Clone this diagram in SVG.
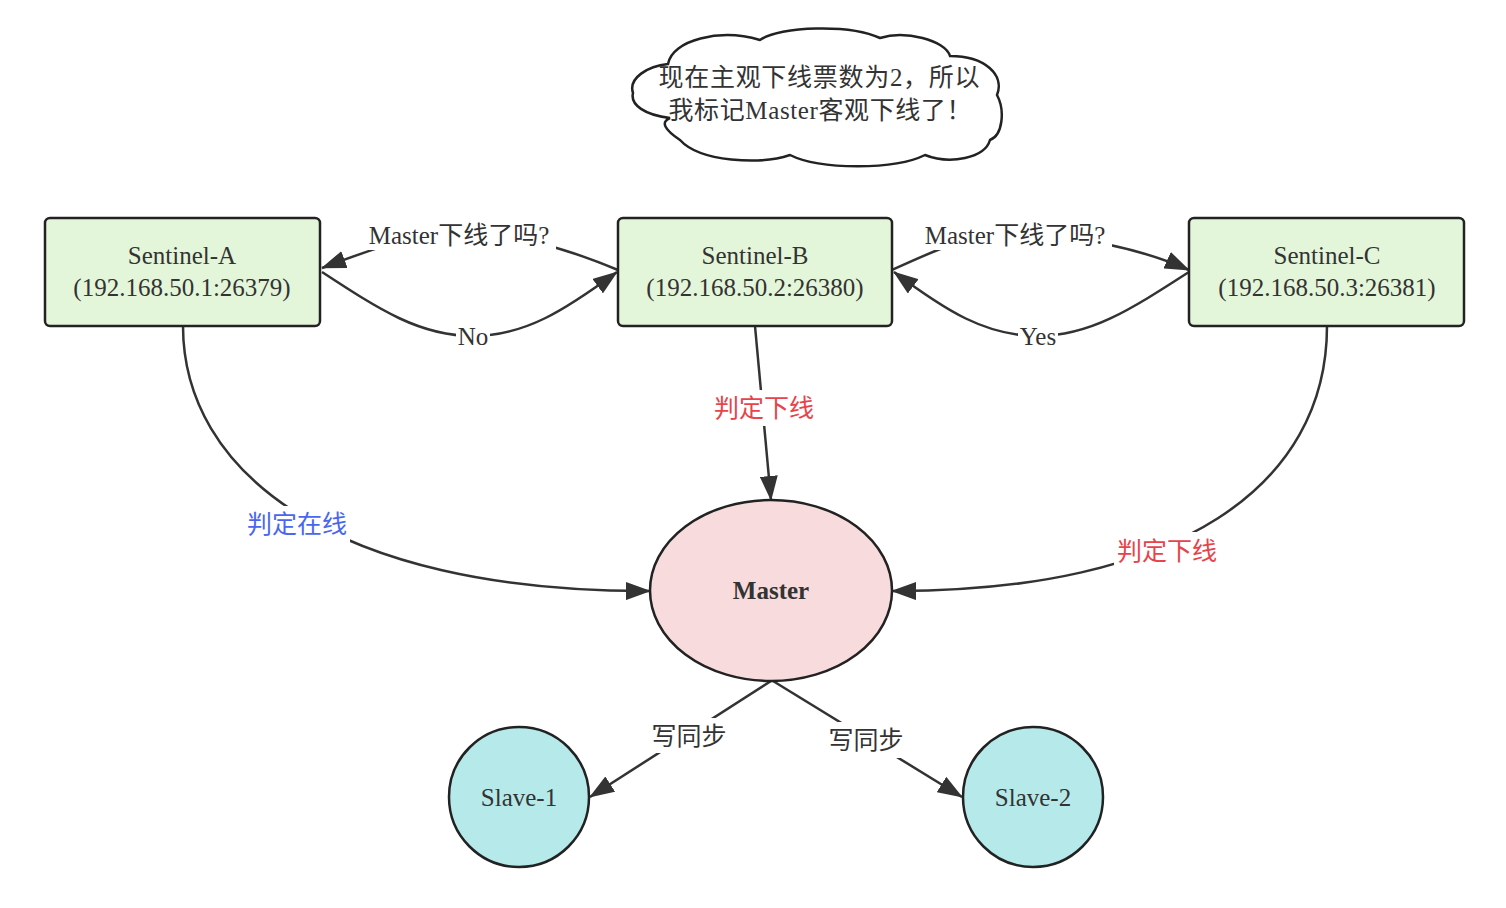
<svg xmlns="http://www.w3.org/2000/svg" width="1506" height="908" viewBox="0 0 1506 908">
<style>
text{font-family:"Liberation Serif","Noto Sans CJK SC",serif;font-size:25px;fill:#333;text-anchor:middle;dominant-baseline:central}
.box{fill:#e4f6da;stroke:#222;stroke-width:2.5}
.edge{fill:none;stroke:#333;stroke-width:2.5}
.lb{fill:#fff}
.red{fill:#e8424b}
.blue{fill:#4a66f0}
</style>
<defs>
<marker id="arr" markerWidth="26" markerHeight="18" refX="24" refY="9" orient="auto" markerUnits="userSpaceOnUse">
<path d="M0,0 L25,9 L0,18 z" fill="#333"/>
</marker>
</defs>
<rect width="1506" height="908" fill="#fff"/>
<g id="cloud">
<path d="M633,93 C628,78 648,66 668,64 C672,40 720,28 760,40 C780,26 850,24 880,38 C905,30 945,40 950,56 C985,56 1005,75 997,95 C1005,110 1003,135 990,140 C985,158 950,165 925,155 C895,170 820,170 790,155 C760,165 700,162 680,140 C665,130 660,122 670,118 C645,115 630,105 633,93 Z" fill="#fff" stroke="#222" stroke-width="2.5"/>
<text x="819" y="77" textLength="321" lengthAdjust="spacing">现在主观下线票数为2，所以</text>
<text x="820" y="110" textLength="303" lengthAdjust="spacing">我标记Master客观下线了！</text>
</g>
<g id="edges">
<path class="edge" d="M618,270 C570,250 520,234 462,234 C410,234 370,250 322,268" marker-end="url(#arr)"/>
<path class="edge" d="M322,272 C380,310 420,336 473,336 C525,336 565,310 617,272" marker-end="url(#arr)"/>
<path class="edge" d="M892,270 C940,248 970,234 1015,234 C1070,234 1140,248 1189,270" marker-end="url(#arr)"/>
<path class="edge" d="M1189,272 C1130,310 1090,336 1038,336 C985,336 945,310 894,272" marker-end="url(#arr)"/>
<path class="edge" d="M755,326 L771,500" marker-end="url(#arr)"/>
<path class="edge" d="M183,326 C183,470 330,592 650,591" marker-end="url(#arr)"/>
<path class="edge" d="M1327,326 C1327,485 1180,592 892,591" marker-end="url(#arr)"/>
<path class="edge" d="M771,681 L590,797" marker-end="url(#arr)"/>
<path class="edge" d="M773,681 L962,797" marker-end="url(#arr)"/>
<rect class="lb" x="362" y="220" width="194" height="30"/>
<text x="459" y="235">Master下线了吗?</text>
<rect class="lb" x="456" y="322" width="34" height="28"/>
<text x="473" y="336">No</text>
<rect class="lb" x="918" y="220" width="194" height="30"/>
<text x="1015" y="235">Master下线了吗?</text>
<rect class="lb" x="1018" y="322" width="40" height="28"/>
<text x="1038" y="336">Yes</text>
<rect class="lb" x="711" y="390" width="106" height="36"/>
<text class="red" x="764" y="408">判定下线</text>
<rect class="lb" x="244" y="506" width="106" height="36"/>
<text class="blue" x="297" y="524">判定在线</text>
<rect class="lb" x="1114" y="532" width="106" height="36"/>
<text class="red" x="1167" y="551">判定下线</text>
<rect class="lb" x="650" y="718" width="78" height="35"/>
<text x="689" y="736">写同步</text>
<rect class="lb" x="827" y="722" width="78" height="36"/>
<text x="866" y="740">写同步</text>
</g>
<g id="sentinelA">
<rect class="box" x="45" y="218" width="275" height="108" rx="5"/>
<text x="182" y="255">Sentinel-A</text>
<text x="182" y="287">(192.168.50.1:26379)</text>
</g>
<g id="sentinelB">
<rect class="box" x="618" y="218" width="274" height="108" rx="5"/>
<text x="755" y="255">Sentinel-B</text>
<text x="755" y="287">(192.168.50.2:26380)</text>
</g>
<g id="sentinelC">
<rect class="box" x="1189" y="218" width="275" height="108" rx="5"/>
<text x="1327" y="255">Sentinel-C</text>
<text x="1327" y="287">(192.168.50.3:26381)</text>
</g>
<g id="master">
<ellipse cx="771" cy="590.5" rx="121" ry="90.5" fill="#f8dbdc" stroke="#222" stroke-width="2.5"/>
<text x="771" y="590" font-weight="bold">Master</text>
</g>
<g id="slave1">
<ellipse cx="519" cy="797" rx="70" ry="70" fill="#b6eaea" stroke="#222" stroke-width="2.5"/>
<text x="519" y="797">Slave-1</text>
</g>
<g id="slave2">
<ellipse cx="1033" cy="797" rx="70" ry="70" fill="#b6eaea" stroke="#222" stroke-width="2.5"/>
<text x="1033" y="797">Slave-2</text>
</g>
</svg>
